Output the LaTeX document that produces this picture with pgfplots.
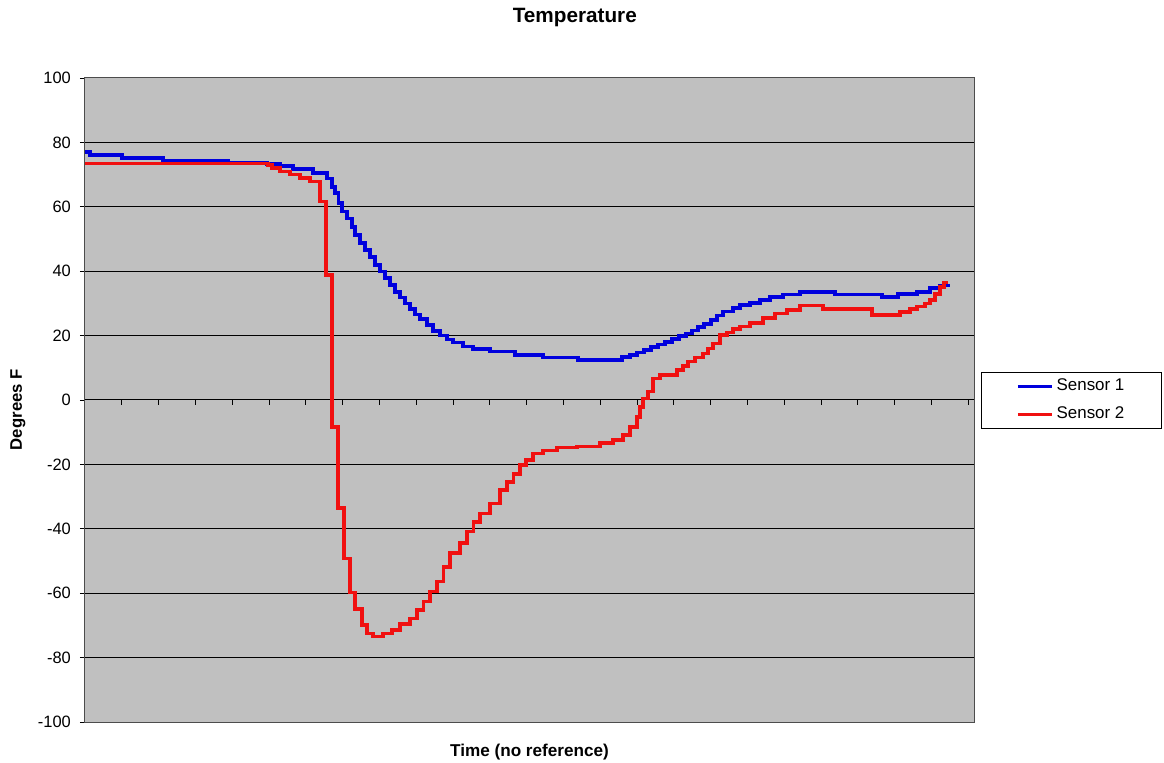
\documentclass[border=0pt]{standalone}
\usepackage{pgfplots}
\pgfplotsset{compat=1.18}
\usepackage{fontspec}
\setmainfont{Liberation Sans}
\definecolor{plotbg}{HTML}{C0C0C0}
\definecolor{sOne}{HTML}{0000DD}
\definecolor{sTwo}{HTML}{F01010}
\begin{document}
\begin{tikzpicture}
\begin{axis}[
 scale only axis, width=889bp, height=644bp,
 xmin=85, xmax=974, ymin=-100, ymax=100,
 axis background/.style={fill=plotbg},
 axis line style={draw=black!70, line width=1bp},
 xtick=\empty,
 ytick={-100,-80,...,100}, ytick pos=left, ytick align=outside, major tick length=5bp,
 ymajorgrids, major grid style={black, line width=1bp},
 tick style={black, line width=0.8bp},
 /pgf/number format/assume math mode=true,
 yticklabel style={font=\fontsize{16.5}{19}\selectfont, inner xsep=9bp},
 title={Temperature},
 title style={at={(0.551,1.084)}, anchor=center, inner sep=0pt, font=\bfseries\fontsize{20.8}{24}\selectfont},
 xlabel={Time (no reference)},
 xlabel style={at={(0.5,-0.0466)}, anchor=center, inner sep=0pt, font=\bfseries\fontsize{17.2}{20}\selectfont},
 ylabel={Degrees F},
 ylabel style={at={(-0.0754,0.485)}, anchor=center, rotate=0, inner sep=0pt, font=\bfseries\fontsize{16.8}{20}\selectfont},
 legend style={at={(1.0079,0.5435)}, anchor=north west, draw=black, fill=white, line width=1bp,
   font=\fontsize{17}{20}\selectfont, inner xsep=34.5bp, inner ysep=0bp, row sep=0bp,
   nodes={inner sep=3bp, text height=15bp, text depth=7bp}},
 legend cell align=left,
 legend image code/.code={\draw[#1] (0bp,0bp) -- (34bp,0bp);},
]
\pgfplotsinvokeforeach{121.8,158.6,195.4,232.2,269,305.8,342.6,379.4,416.2,453,489.8,526.6,563.4,600.2,637,673.8,710.6,747.4,784.2,821,857.8,894.6,931.4,968.2}{
  \draw[black, line width=0.8bp] (axis cs:#1,0) -- ++(0bp,-5bp);
}
\addplot[const plot, sOne, line width=3.6bp] table {
x y
85 77
90 76
122 75.2
163 74.2
228 73.6
267 73.3
280 72.7
293 71.7
313 70.5
327 68.8
331.7 66.2
335 64.2
338.3 61.1
341.7 58.5
346.7 56.4
351.7 53.8
355 51.2
360 48.7
365 46.6
370 44.5
375 41.9
380 39.9
385 37.8
390 35.7
395 33.6
400 31.8
405 30
410 28.3
415 26.5
420 25.1
427 23.2
433 21.5
440 20
447 18.8
453 17.8
463 16.6
473 15.8
490 15
515 14
543 13.2
578 12.4
622 13.3
630 14
637 14.8
644 15.6
651 16.4
658 17.2
665 18
672 18.9
679 19.8
686 20.7
692 21.6
698 22.6
704 23.6
711 24.8
717 26.2
723 27.5
733 28.5
740 29.5
750 30.2
760 31
770 31.9
783 32.8
800 33.6
835 32.8
882 31.9
898 32.9
917 33.6
930 34.7
940 35.5
950 35.5
};
\addlegendentry{Sensor 1}
\addplot[const plot, sTwo, line width=3.6bp] table {
x y
85 73.5
268 73
272 72
280 71
290 70
300 69
310 67.8
320 61.6
326 38.8
332 -8.3
338 -33.6
344 -49.2
350 -59.8
355 -65
361.7 -69.9
366.7 -72.5
373 -73.5
383 -72.5
391.7 -71.4
400 -69.6
410 -67.8
416.7 -65.2
423.3 -62.6
430 -59.5
436.7 -56.4
443.3 -51.8
450 -47.6
460 -44.5
466.7 -40.9
473.3 -37.8
480 -35.2
490 -32.1
500 -28
506.7 -25.4
513.3 -23
520 -20.2
526 -18.6
533 -16.6
543 -15.7
557 -14.7
577 -14.5
600 -13.4
613 -12.4
623 -10.9
630 -8.3
637 -5.2
640 -2.1
643 0.5
648 2.6
653 6.7
660 7.8
677 9.3
683 10.5
688 11.9
695 13.2
703 14.5
708 16
713 17.6
720 20.2
727 21
733 22
740 22.8
750 24
763 25.4
775 26.8
787 28
800 29.3
823 28.3
872 26.4
900 27.4
910 28.3
917 29
925 30
930 31
935 33
940 35
944 36.5
948 36.5
};
\addlegendentry{Sensor 2}
\end{axis}
\path (-85bp,-41bp) rectangle (1079bp,722bp);
\end{tikzpicture}
\end{document}
